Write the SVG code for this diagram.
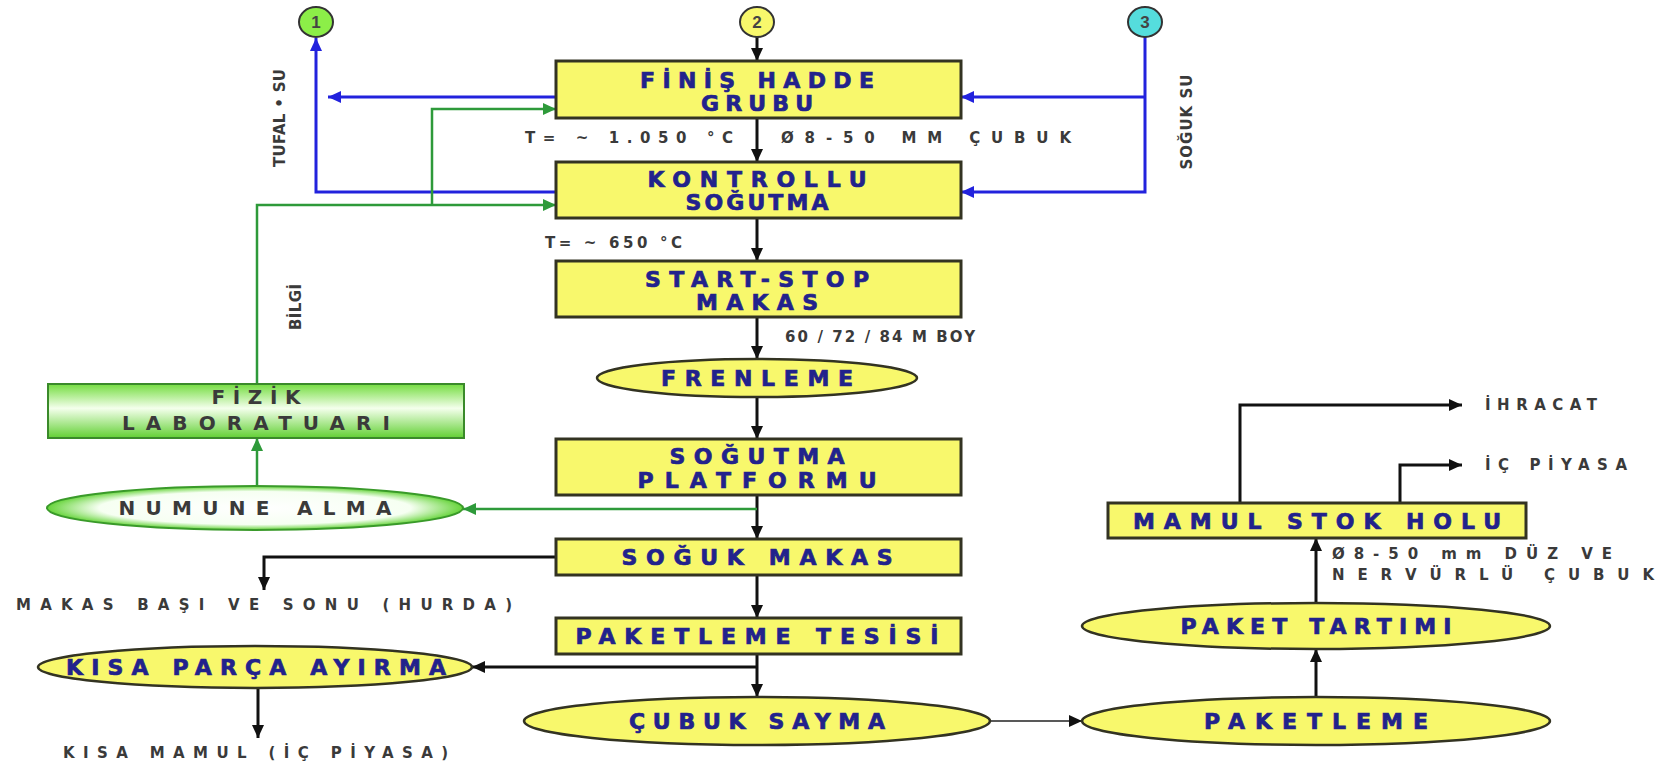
<svg xmlns="http://www.w3.org/2000/svg" width="1670" height="770" viewBox="0 0 1670 770">
<defs>
<style>
.box{fill:#f8f86c;stroke:#333322;stroke-width:3}
.ell{fill:#f8f86c;stroke:#333322;stroke-width:2.5}
.bt{font-family:"DejaVu Sans","Liberation Sans",sans-serif;font-weight:bold;font-size:22px;fill:#22228c;stroke:#22228c;stroke-width:0.7;text-anchor:middle;dominant-baseline:central}
.lt{font-family:"DejaVu Sans","Liberation Sans",sans-serif;font-weight:bold;font-size:15px;fill:#3a3a3a;dominant-baseline:central}
.gt{font-family:"DejaVu Sans","Liberation Sans",sans-serif;font-weight:bold;font-size:20px;fill:#3a3a3a;text-anchor:middle;dominant-baseline:central}
.ct{font-family:"Liberation Sans",Arial,sans-serif;font-weight:bold;font-size:17px;fill:#444;text-anchor:middle;dominant-baseline:central}
.k{fill:none;stroke:#111;stroke-width:3}
.kt{fill:none;stroke:#222;stroke-width:1.6}
.b{fill:none;stroke:#2222dd;stroke-width:3}
.g{fill:none;stroke:#2e9a3a;stroke-width:2.5}
</style>
<marker id="ak" markerUnits="userSpaceOnUse" markerWidth="14" markerHeight="12" refX="13" refY="6" orient="auto"><path d="M0,0 L13,6 L0,12 z" fill="#111"/></marker>
<marker id="ab" markerUnits="userSpaceOnUse" markerWidth="14" markerHeight="12" refX="13" refY="6" orient="auto"><path d="M0,0 L13,6 L0,12 z" fill="#2222dd"/></marker>
<marker id="ag" markerUnits="userSpaceOnUse" markerWidth="14" markerHeight="12" refX="13" refY="6" orient="auto"><path d="M0,0 L13,6 L0,12 z" fill="#2e9a3a"/></marker>
<linearGradient id="gbox" x1="0" y1="0" x2="0" y2="1">
<stop offset="0" stop-color="#74dc40"/><stop offset="0.45" stop-color="#f4ffec"/><stop offset="1" stop-color="#62d034"/>
</linearGradient>
<radialGradient id="gell" cx="0.5" cy="0.5" r="0.5">
<stop offset="0" stop-color="#ffffff"/><stop offset="0.75" stop-color="#f6fff2"/><stop offset="1" stop-color="#66d43a"/>
</radialGradient>
</defs>
<rect width="1670" height="770" fill="#ffffff"/>

<g id="connectors">
<path class="k" d="M757,37 V61" marker-end="url(#ak)"/>
<path class="k" d="M757,118 V162" marker-end="url(#ak)"/>
<path class="k" d="M757,218 V261" marker-end="url(#ak)"/>
<path class="k" d="M757,317 V359" marker-end="url(#ak)"/>
<path class="k" d="M757,397 V439" marker-end="url(#ak)"/>
<path class="k" d="M757,495 V539" marker-end="url(#ak)"/>
<path class="k" d="M757,575 V618" marker-end="url(#ak)"/>
<path class="k" d="M757,654 V697" marker-end="url(#ak)"/>
<path class="k" d="M556,557 H264 V590" marker-end="url(#ak)"/>
<path class="k" d="M757,667 H472" marker-end="url(#ak)"/>
<path class="k" d="M258,688 V738" marker-end="url(#ak)"/>
<path class="kt" d="M990,721 H1082" marker-end="url(#ak)"/>
<path class="k" d="M1316,697 V649" marker-end="url(#ak)"/>
<path class="k" d="M1316,603 V538" marker-end="url(#ak)"/>
<path class="k" d="M1240,503 V405 H1462" marker-end="url(#ak)"/>
<path class="k" d="M1400,503 V465 H1462" marker-end="url(#ak)"/>
<path class="b" d="M556,97 H328" marker-end="url(#ab)"/>
<path class="b" d="M556,192 H316 V38" marker-end="url(#ab)"/>
<path class="b" d="M1145,37 V192 H961" marker-end="url(#ab)"/>
<path class="b" d="M1145,97 H961" marker-end="url(#ab)"/>
<path class="g" d="M257,384 V205 H556" marker-end="url(#ag)"/>
<path class="g" d="M432,205 V109 H556" marker-end="url(#ag)"/>
<path class="g" d="M757,509 H463" marker-end="url(#ag)"/>
<path class="g" d="M257,486 V438" marker-end="url(#ag)"/>
</g>

<g id="c1"><ellipse cx="316" cy="22" rx="17" ry="15" fill="#8cee48" stroke="#333" stroke-width="2"/><text class="ct" x="316" y="22">1</text></g>
<g id="c2"><ellipse cx="757" cy="22" rx="17" ry="15" fill="#f8f86c" stroke="#333" stroke-width="2"/><text class="ct" x="757" y="22">2</text></g>
<g id="c3"><ellipse cx="1145" cy="22" rx="17" ry="15" fill="#55dddd" stroke="#333" stroke-width="2"/><text class="ct" x="1145" y="22">3</text></g>

<g id="finis"><rect class="box" x="556" y="61" width="405" height="57"/>
<text class="bt" x="757" y="80" textLength="234" lengthAdjust="spacing">FİNİŞ HADDE</text>
<text class="bt" x="757" y="103" textLength="112" lengthAdjust="spacing">GRUBU</text></g>

<g id="kontrollu"><rect class="box" x="556" y="162" width="405" height="56"/>
<text class="bt" x="757" y="179" textLength="219" lengthAdjust="spacing">KONTROLLU</text>
<text class="bt" x="757" y="202" textLength="143" lengthAdjust="spacing">SOĞUTMA</text></g>

<g id="startstop"><rect class="box" x="556" y="261" width="405" height="56"/>
<text class="bt" x="757" y="279" textLength="224" lengthAdjust="spacing">START-STOP</text>
<text class="bt" x="757" y="302" textLength="122" lengthAdjust="spacing">MAKAS</text></g>

<g id="frenleme"><ellipse class="ell" cx="757" cy="378" rx="160" ry="19"/>
<text class="bt" x="757" y="378" textLength="192" lengthAdjust="spacing">FRENLEME</text></g>

<g id="platform"><rect class="box" x="556" y="439" width="405" height="56"/>
<text class="bt" x="757" y="456" textLength="175" lengthAdjust="spacing">SOĞUTMA</text>
<text class="bt" x="757" y="480" textLength="239" lengthAdjust="spacing">PLATFORMU</text></g>

<g id="soguk"><rect class="box" x="556" y="539" width="405" height="36"/>
<text class="bt" x="757" y="557" textLength="271" lengthAdjust="spacing">SOĞUK MAKAS</text></g>

<g id="tesis"><rect class="box" x="556" y="618" width="405" height="36"/>
<text class="bt" x="757" y="636" textLength="363" lengthAdjust="spacing">PAKETLEME TESİSİ</text></g>

<g id="cubuk"><ellipse class="ell" cx="757" cy="721" rx="233" ry="24"/>
<text class="bt" x="757" y="721" textLength="256" lengthAdjust="spacing">ÇUBUK SAYMA</text></g>

<g id="paketleme"><ellipse class="ell" cx="1316" cy="721" rx="234" ry="24"/>
<text class="bt" x="1316" y="721" textLength="224" lengthAdjust="spacing">PAKETLEME</text></g>

<g id="tartim"><ellipse class="ell" cx="1316" cy="626" rx="234" ry="23"/>
<text class="bt" x="1316" y="626" textLength="271" lengthAdjust="spacing">PAKET TARTIMI</text></g>

<g id="stok"><rect class="box" x="1108" y="503" width="418" height="35"/>
<text class="bt" x="1317" y="521" textLength="368" lengthAdjust="spacing">MAMUL STOK HOLU</text></g>

<g id="kisa"><ellipse class="ell" cx="255" cy="667" rx="217" ry="21"/>
<text class="bt" x="256" y="667" textLength="380" lengthAdjust="spacing">KISA PARÇA AYIRMA</text></g>

<g id="fizik"><rect x="48" y="384" width="416" height="54" fill="url(#gbox)" stroke="#3a8a2a" stroke-width="2"/>
<text class="gt" x="256" y="397" textLength="89" lengthAdjust="spacing">FİZİK</text>
<text class="gt" x="256" y="423" textLength="268" lengthAdjust="spacing">LABORATUARI</text></g>

<g id="numune"><ellipse cx="255" cy="508" rx="208" ry="22" fill="url(#gell)" stroke="#3a9a2a" stroke-width="2"/>
<text class="gt" x="255" y="508" textLength="273" lengthAdjust="spacing">NUMUNE ALMA</text></g>

<g id="labels">
<text class="lt" x="525" y="138" textLength="208" lengthAdjust="spacing">T= ~ 1.050 °C</text>
<text class="lt" x="781" y="138" textLength="290" lengthAdjust="spacing">Ø8-50 MM ÇUBUK</text>
<text class="lt" x="545" y="243" textLength="137" lengthAdjust="spacing">T= ~ 650 °C</text>
<text class="lt" x="785" y="337" textLength="190" lengthAdjust="spacing">60 / 72 / 84 M BOY</text>
<text class="lt" x="16" y="605" font-size="17" textLength="496" lengthAdjust="spacing">MAKAS BAŞI VE SONU (HURDA)</text>
<text class="lt" x="63" y="753" font-size="17" textLength="385" lengthAdjust="spacing">KISA MAMUL (İÇ PİYASA)</text>
<text class="lt" x="1485" y="405" font-size="16" textLength="112" lengthAdjust="spacing">İHRACAT</text>
<text class="lt" x="1485" y="465" font-size="16" textLength="142" lengthAdjust="spacing">İÇ PİYASA</text>
<text class="lt" x="1332" y="554" font-size="16" textLength="280" lengthAdjust="spacing">Ø8-50 mm DÜZ VE</text>
<text class="lt" x="1332" y="575" font-size="16" textLength="322" lengthAdjust="spacing">NERVÜRLÜ ÇUBUK</text>
<text class="lt" transform="translate(280,118) rotate(-90)" text-anchor="middle" textLength="98" lengthAdjust="spacing">TUFAL • SU</text>
<text class="lt" transform="translate(1187,122) rotate(-90)" text-anchor="middle" textLength="95" lengthAdjust="spacing">SOĞUK SU</text>
<text class="lt" transform="translate(296,307) rotate(-90)" text-anchor="middle" textLength="46" lengthAdjust="spacing">BİLGİ</text>
</g>
</svg>
